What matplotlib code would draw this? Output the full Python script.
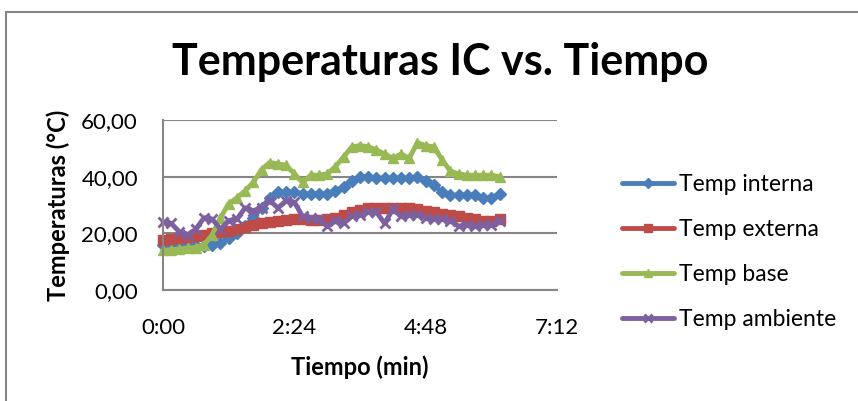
import matplotlib
matplotlib.use("Agg")
import matplotlib.pyplot as plt
from matplotlib.patches import Rectangle
from matplotlib.ticker import FuncFormatter

plt.rcParams['font.family'] = ['Lato', 'DejaVu Sans']

# tiempo en segundos (muestreo cada 9 s)
tiempo = [9 * i for i in range(42)]

temp_interna = [16, 15.5, 15.5, 15.5, 15.5, 15.5, 16, 16.5, 18.5, 20, 22.5, 25.5,
                29, 32.5, 34.5, 34.5, 34.5, 34, 34, 34, 34, 35, 36.5, 38.5,
                40, 40, 39.5, 39.5, 39.5, 39.5, 39.5, 40, 38.5, 37, 34.5, 33.5,
                33.5, 33.5, 33.5, 32.5, 32.5, 34]
temp_externa = [17.8, 18, 18.3, 18.7, 19, 19.5, 20, 20.5, 21, 21.7, 22.3, 23,
                23.5, 24, 24.5, 24.8, 25, 25, 24.8, 24.8, 25, 25.5, 26.5, 27.5,
                28.2, 28.8, 29, 29, 29, 29, 28.8, 28.5, 28, 27.5, 27, 26.5,
                26, 25.5, 25, 24.5, 24.5, 25]
temp_base = [14, 14.2, 14.5, 14.8, 15, 16, 19.5, 25.5, 30.5, 32.5, 35, 38,
             42.5, 45, 44.5, 44, 41, 38, 40.5, 40.5, 41, 43.5, 47, 50.5,
             51, 50.5, 49.5, 48, 46.5, 48, 46.5, 52, 51, 50.5, 46, 42,
             41, 40.5, 40.5, 40.5, 40.5, 40]
temp_ambiente = [24, 23.5, 20.5, 19.5, 21.5, 25.5, 25, 21.5, 24.5, 25, 29, 28,
                 29, 31.5, 29, 31.5, 31, 26, 25.5, 25, 22.5, 24.5, 23.5, 26,
                 26.5, 27.5, 27.5, 23.5, 28.5, 26, 26.5, 26.5, 25.5, 25, 25, 24.5,
                 22.5, 23, 22.5, 23, 23, 24.5]

series = [
    ("Temp interna", temp_interna, "#4A7EBB", "D", 6),
    ("Temp externa", temp_externa, "#BE4B48", "s", 7),
    ("Temp base", temp_base, "#98B954", "^", 7.5),
    ("Temp ambiente", temp_ambiente, "#7D60A0", "x", 7),
]

x_ticks = [0, 144, 288, 432]
x_labels = ["0:00", "2:24", "4:48", "7:12"]
y_ticks = [0, 20, 40, 60]

fig = plt.figure(figsize=(8.58, 4.01), dpi=100)
ax = fig.add_axes([163 / 858, 1 - 290 / 401, 394 / 858, 170 / 401])

# marco del grafico
fig.patches.append(Rectangle((6 / 858, -0.1), 1.2, 1 - 12 / 401 + 0.1,
                             transform=fig.transFigure, fill=False,
                             edgecolor="#868686", linewidth=1.5))

for nombre, valores, color, marker, ms in series:
    ax.plot(tiempo, valores, color=color, linewidth=3.5, marker=marker,
            markersize=ms, markeredgewidth=2 if marker == "x" else 1,
            markeredgecolor=color, markerfacecolor=color, label=nombre,
            solid_capstyle="round", clip_on=False)

ax.set_xlim(0, 432)
ax.set_ylim(0, 60)
ax.set_xticks(x_ticks)
ax.set_xticklabels(x_labels)
ax.set_yticks(y_ticks)
ax.yaxis.set_major_formatter(FuncFormatter(lambda v, p: f"{v:.2f}".replace(".", ",")))
ax.tick_params(length=0, labelsize=16)
ax.tick_params(axis="x", pad=20)
ax.tick_params(axis="y", pad=18)
ax.grid(axis="y", color="#868686", linewidth=1.5)
ax.set_axisbelow(True)
for s in ["top", "right"]:
    ax.spines[s].set_visible(False)
for s in ["left", "bottom"]:
    ax.spines[s].set_color("#868686")
    ax.spines[s].set_linewidth(1.5)

ax.set_xlabel("Tiempo (min)", fontsize=17, fontweight="bold", labelpad=13)
ax.set_ylabel("Temperaturas (°C)", fontsize=17, fontweight="bold", labelpad=8)
fig.text(440 / 858, 1 - 62 / 401, "Temperaturas IC vs. Tiempo", fontsize=31,
         fontweight="bold", ha="center", va="center")

leg = ax.legend(loc="upper left", bbox_to_anchor=(611 / 858, 1 - 163 / 401),
                bbox_transform=fig.transFigure, frameon=False, fontsize=16.5,
                borderpad=0, handlelength=2.25, handletextpad=0.2,
                labelspacing=1.04, markerscale=0.8)

fig.savefig("out.png", dpi=100)
